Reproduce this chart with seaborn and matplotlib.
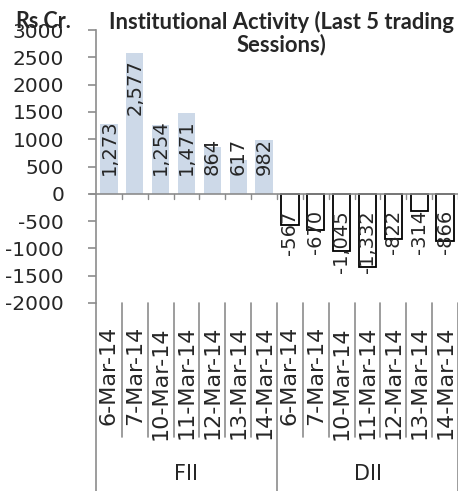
import matplotlib
matplotlib.use("Agg")
import matplotlib.pyplot as plt
import matplotlib.transforms as mtransforms
import seaborn as sns
import pandas as pd

# data (Rs. Cr.)
dates = ["6-Mar-14", "7-Mar-14", "10-Mar-14", "11-Mar-14", "12-Mar-14", "13-Mar-14", "14-Mar-14"]
groups = ["FII", "DII"]
fii_values = [1273, 2577, 1254, 1471, 864, 617, 982]
dii_values = [-567, -670, -1045, -1332, -822, -314, -866]
y_ticks = [-2000, -1500, -1000, -500, 0, 500, 1000, 1500, 2000, 2500, 3000]

FIG_SIZE = (4.58, 4.91)
DPI = 100
FII_COLOR = "#c9d9ec"
AXIS_GREY = "#8c8c8c"
FONT = "DejaVu Sans"

sns.set_theme(style="white")
plt.rcParams["font.family"] = [FONT]

df = pd.DataFrame({
    "group": ["FII"] * len(dates) + ["DII"] * len(dates),
    "date": dates + dates,
    "value": fii_values + dii_values,
})
df["key"] = df["group"] + " " + df["date"]

fig = plt.figure(figsize=FIG_SIZE, dpi=DPI)
ax = fig.add_axes([96 / 458, (491 - 303) / 491, (458 - 96) / 458, (303 - 30) / 491])

sns.barplot(data=df, x="key", y="value", hue="group",
            palette={"FII": FII_COLOR, "DII": "white"},
            dodge=False, width=0.67, legend=False, ax=ax)

for p in ax.patches:
    if p.get_height() < 0:
        p.set_edgecolor("black")
        p.set_linewidth(1.3)
    else:
        p.set_edgecolor("none")

n = len(df)
ax.set_xlim(-0.5, n - 0.5)
ax.set_ylim(-2000, 3000)
ax.set_yticks(y_ticks)
ax.set_yticklabels([str(t) for t in y_ticks], fontsize=14.5)
ax.set_xticks([])
ax.set_xlabel("")
ax.set_ylabel("")
ax.tick_params(axis="y", length=6, width=1.2, color=AXIS_GREY, pad=17, direction="out", left=True)
for s in ["top", "right", "bottom"]:
    ax.spines[s].set_visible(False)
ax.spines["left"].set_color(AXIS_GREY)
ax.spines["left"].set_linewidth(1.2)

# zero line with small ticks at category boundaries
ax.axhline(0, color=AXIS_GREY, lw=1.2, xmin=-0.017, clip_on=False, zorder=1)
for b in range(1, n + 1):
    ax.plot([b - 0.5, b - 0.5], [0, -100], color=AXIS_GREY, lw=1, clip_on=False)

# value labels
for i, v in enumerate(df["value"]):
    lab = f"{v:,}"
    if v >= 0:
        if v > 2000:
            ax.text(i, v - 120, lab, rotation=90, ha="center", va="top", fontsize=14)
        else:
            ax.text(i, 350, lab, rotation=90, ha="center", va="bottom", fontsize=14)
    else:
        ax.text(i, -300, lab, rotation=90, ha="center", va="top", fontsize=14)

# category axis below the plot (date labels and group labels)
trans = mtransforms.blended_transform_factory(ax.transData, fig.transFigure)
y_top = (491 - 303) / 491
y_mid = (491 - 437) / 491
for b in range(n + 1):
    x = b - 0.5
    bottom = 0 if b % len(dates) == 0 else y_mid
    ax.plot([x, x], [y_top, bottom], color=AXIS_GREY, lw=1.2, transform=trans, clip_on=False)

for i, d in enumerate(df["date"]):
    ax.text(i, (491 - 326) / 491, d, rotation=90, ha="center", va="top",
            fontsize=16, transform=trans)

for g_i, g in enumerate(groups):
    center = g_i * len(dates) + (len(dates) - 1) / 2
    ax.text(center, (491 - 474) / 491, g, ha="center", va="center",
            fontsize=15, transform=trans)

fig.text(281 / 458, (491 - 33) / 491, "Institutional Activity (Last 5 trading\nSessions)",
         ha="center", va="center", fontsize=15.8, fontweight="bold",
         family="Lato", linespacing=1.0)
fig.text(15 / 458, (491 - 21) / 491, "Rs.Cr.", ha="left", va="center",
         fontsize=15.5, fontweight="bold", family="Lato")

fig.savefig("out.png", dpi=DPI)
